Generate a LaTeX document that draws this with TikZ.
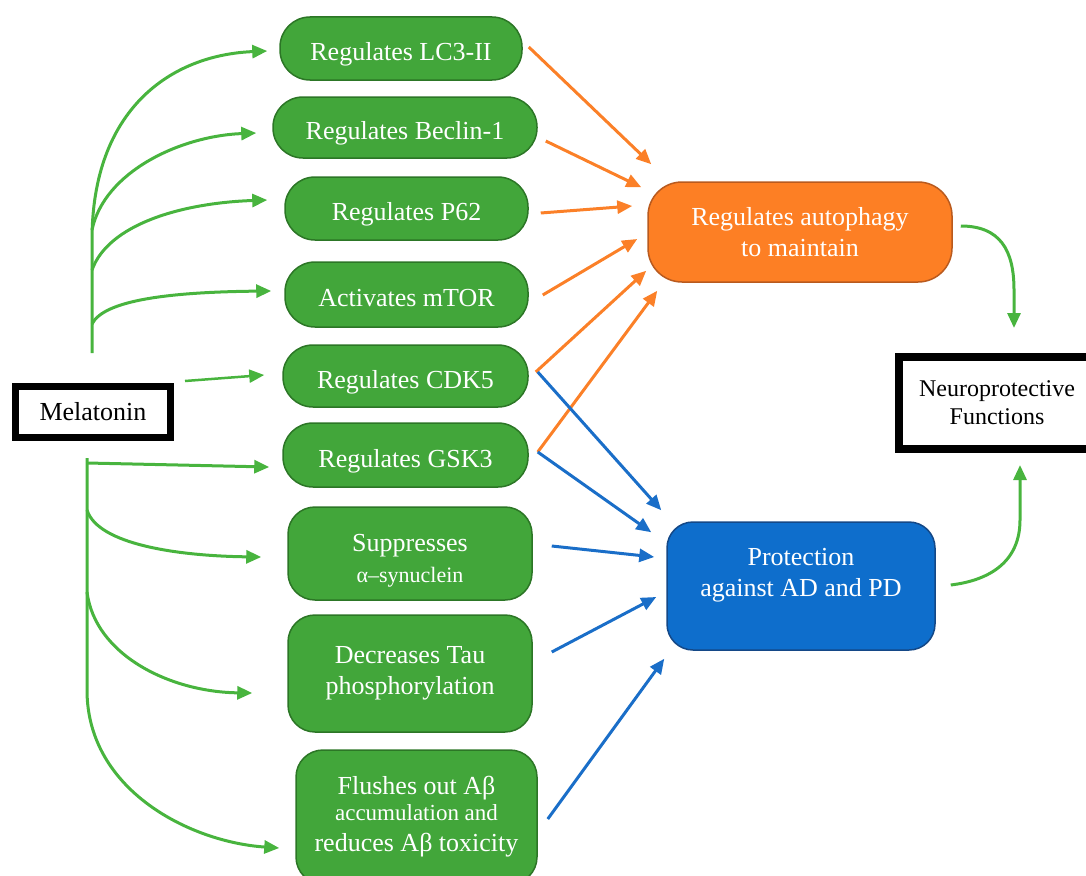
\documentclass[tikz,border=0pt]{standalone}
\usepackage{fontspec}
\setmainfont{Liberation Serif}
\usetikzlibrary{arrows.meta,calc}
\definecolor{gfill}{RGB}{66,166,58}
\definecolor{gdraw}{RGB}{44,118,38}
\definecolor{garr}{RGB}{72,180,62}
\definecolor{ofill}{RGB}{253,127,36}
\definecolor{odraw}{RGB}{185,90,30}
\definecolor{oarr}{RGB}{251,128,40}
\definecolor{bfill}{RGB}{14,110,204}
\definecolor{bdraw}{RGB}{20,72,135}
\definecolor{barr}{RGB}{26,110,200}
\begin{document}
\begin{tikzpicture}[x=1pt,y=-1pt,
  gbox/.style={draw=gdraw, fill=gfill, line width=1.5pt, rounded corners=30pt, text=white,
    font=\fontsize{26}{31}\selectfont, align=center, inner sep=0pt},
  oneline/.style={text height=24pt, text depth=0pt},
  obox/.style={draw=odraw, fill=ofill, line width=1.5pt, rounded corners=34pt, text=white,
    font=\fontsize{26}{31}\selectfont, align=center, inner sep=0pt},
  bbox/.style={draw=bdraw, fill=bfill, line width=1.5pt, rounded corners=26pt, text=white,
    font=\fontsize{26}{31}\selectfont, align=center, inner sep=0pt},
  kbox/.style={draw=black, fill=white, align=center, inner sep=0pt},
  tip/.style={-{Triangle[length=15pt,width=13pt]}},
  garrow/.style={tip, draw=garr, line width=3pt},
  oarrow/.style={tip, draw=oarr, line width=3pt},
  barrow/.style={tip, draw=barr, line width=3pt}]
\useasboundingbox (0,0) rectangle (1086,875);
\clip (0,0) rectangle (1086,875);

% nodes
\node[kbox, line width=7pt, minimum width=155, minimum height=51, font=\fontsize{26}{31}\selectfont] (mel) at (93,412) {Melatonin};
\node[gbox, oneline, minimum width=242, minimum height=63] (lc3) at (401,48.5) {Regulates LC3-II};
\node[gbox, oneline, minimum width=264, minimum height=61] (becl) at (405,127.5) {Regulates Beclin-1};
\node[gbox, oneline, minimum width=243, minimum height=63] (p62) at (406.5,208.5) {Regulates P62};
\node[gbox, oneline, minimum width=243, minimum height=65] (mtor) at (406.5,294.5) {Activates mTOR};
\node[gbox, oneline, minimum width=245, minimum height=62] (cdk5) at (405.5,376) {Regulates CDK5};
\node[gbox, oneline, minimum width=245, minimum height=64] (gsk3) at (405.5,455) {Regulates GSK3};
\node[gbox, minimum width=244, minimum height=93, rounded corners=27pt] (syn) at (410,553.5)
  {\fontsize{26}{27}\selectfont\rule{0pt}{31pt}Suppresses\\\fontsize{22}{27}\selectfont α–synuclein};
\node[gbox, minimum width=244, minimum height=117, rounded corners=27pt] (tau) at (410,673.5)
  {\fontsize{26}{33}\selectfont Decreases Tau\\phosphorylation};
\node[gbox, minimum width=241, minimum height=134, rounded corners=27pt] (abeta) at (416.5,817)
  {\fontsize{26}{27}\selectfont Flushes out Aβ\\[-5pt]\fontsize{23}{28}\selectfont accumulation and\\reduces Aβ toxicity};
\node[obox, minimum width=304, minimum height=100] (auto) at (800,232)
  {Regulates autophagy\\to maintain};
\node[bbox, minimum width=268, minimum height=128] (prot) at (801,586)
  {Protection\\against AD and PD\\[-14pt]\strut};
\node[kbox, line width=8pt, minimum width=196, minimum height=92, font=\fontsize{24}{28}\selectfont] (neuro) at (997,403)
  {Neuroprotective\\Functions};

% Melatonin upper tree
\coordinate (ut) at ($(mel.north)+(-1,-30)$);
\draw[garrow] (ut) -- (92,240) .. controls (92,110) and (170,55) .. ($(lc3.west)+(-12,2.5)$);
\draw[garrow] (92,230) .. controls (104,172) and (180,136) .. ($(becl.west)+(-16,5.5)$);
\draw[garrow] (92,270) .. controls (108,225) and (180,203) .. ($(p62.west)+(-17,-8.5)$);
\draw[garrow] (92,324) .. controls (104,300) and (170,292) .. ($(mtor.west)+(-13,-3.5)$);
\draw[garrow, line width=2.5pt] ($(mel.east)+(11,-31)$) -- ($(cdk5.west)+(-18,-1)$);

% Melatonin lower tree
\coordinate (lt) at ($(mel.south)+(-6,17)$);
\draw[garrow] (lt) -- (87,690) .. controls (87,790) and (190,842) .. ($(abeta.west)+(-16,31)$);
\draw[garrow] (87,463) -- ($(gsk3.west)+(-13,12)$);
\draw[garrow] (87,510) .. controls (98,545) and (180,556) .. ($(syn.west)+(-26,3.5)$);
\draw[garrow] (87,592) .. controls (95,655) and (170,692) .. ($(tau.west)+(-35,19.5)$);

% orange arrows
\draw[oarrow] ($(lc3.east)+(6,-1.5)$) -- ($(auto.north west)+(4,-17)$);
\draw[oarrow] ($(becl.east)+(8,13.5)$) -- ($(auto.north west)+(-6,6)$);
\draw[oarrow] ($(p62.east)+(12,4.5)$) -- ($(auto.west)+(-15,-26)$);
\draw[oarrow] ($(mtor.east)+(14,0.5)$) -- ($(auto.west)+(-10,7)$);
\draw[oarrow] ($(cdk5.east)+(7,-4)$) -- ($(auto.south west)+(-1,-12)$);
\draw[oarrow] ($(gsk3.east)+(9,-3)$) -- ($(auto.south west)+(10,8)$);

% blue arrows
\draw[barrow] ($(cdk5.east)+(9,-4)$) -- ($(prot.north west)+(-5,-11)$);
\draw[barrow] ($(gsk3.east)+(9,-3)$) -- ($(prot.north west)+(-15,11)$);
\draw[barrow] ($(syn.east)+(19,-7.5)$) -- ($(prot.west)+(-12,-29)$);
\draw[barrow] ($(tau.east)+(19,-21.5)$) -- ($(prot.west)+(-10,11)$);
\draw[barrow] ($(abeta.east)+(10,2)$) -- ($(prot.south west)+(-2,8)$);

% to neuroprotective
\draw[garrow] ($(auto.east)+(8,-6)$) .. controls (1000,226) and (1014,250) .. (1014,290) -- ($(neuro.north)+(17,-25)$);
\draw[garrow] ($(prot.east)+(15,-1)$) .. controls (992,580) and (1020,560) .. (1020,520) -- ($(neuro.south)+(23,12)$);
\end{tikzpicture}
\end{document}
